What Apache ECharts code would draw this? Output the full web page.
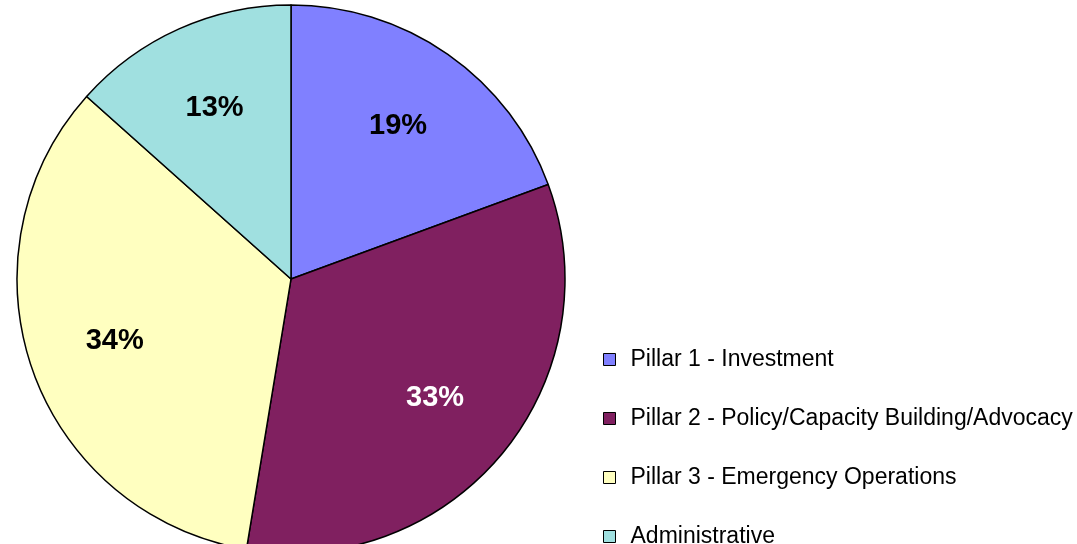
<!DOCTYPE html>
<html>
<head>
<meta charset="utf-8">
<script src="https://cdn.jsdelivr.net/npm/echarts@6/dist/echarts.min.js"></script>
<style>
html,body{margin:0;padding:0;background:#fff;}
#c{width:1077px;height:544px;}
</style>
</head>
<body>
<div id="c"></div>
<script>
var categories = ['Pillar 1 - Investment', 'Pillar 2 - Policy/Capacity Building/Advocacy', 'Pillar 3 - Emergency Operations', 'Administrative'];
var values = [19.4, 33.2, 34.0, 13.4];
var colors = ['#8080FF', '#802060', '#FFFFC0', '#A0E0E0'];
var labelColors = ['#000000', '#FFFFFF', '#000000', '#000000'];

var font = '"Liberation Sans", Arial, sans-serif';
var chart = echarts.init(document.getElementById('c'), null, {renderer: 'canvas'});

var sliceData = categories.map(function (n, i) {
  return {name: n, value: values[i], itemStyle: {color: colors[i]}};
});
var labelData = categories.map(function (n, i) {
  return {name: n, value: values[i], label: {color: labelColors[i]}};
});

chart.setOption({
  animation: false,
  backgroundColor: '#ffffff',
  legend: {
    orient: 'vertical',
    left: 603,
    top: 348,
    height: 300,
    padding: 0,
    itemWidth: 12,
    itemHeight: 12,
    itemGap: 36,
    icon: 'rect',
    selectedMode: false,
    data: categories.map(function (n, i) {
      return {name: n, itemStyle: {color: colors[i], borderColor: '#000', borderWidth: 1}};
    }),
    textStyle: {fontFamily: font, fontSize: 23, color: '#000', lineHeight: 22, padding: [0, 0, 0, 10]}
  },
  series: [
    {
      type: 'pie',
      center: [291, 279],
      radius: [0, 274],
      startAngle: 90,
      clockwise: true,
      silent: true,
      label: {show: false},
      labelLine: {show: false},
      itemStyle: {borderColor: '#000', borderWidth: 1.5},
      data: sliceData
    },
    {
      type: 'pie',
      center: [291, 279],
      radius: [94, 274],
      startAngle: 90,
      clockwise: true,
      silent: true,
      itemStyle: {color: 'rgba(0,0,0,0)', borderWidth: 0},
      label: {
        show: true,
        position: 'inside',
        fontFamily: font,
        fontSize: 29,
        fontWeight: 'bold',
        formatter: function (p) { return Math.round(p.percent) + '%'; }
      },
      labelLine: {show: false},
      data: labelData
    }
  ]
});
</script>
</body>
</html>
